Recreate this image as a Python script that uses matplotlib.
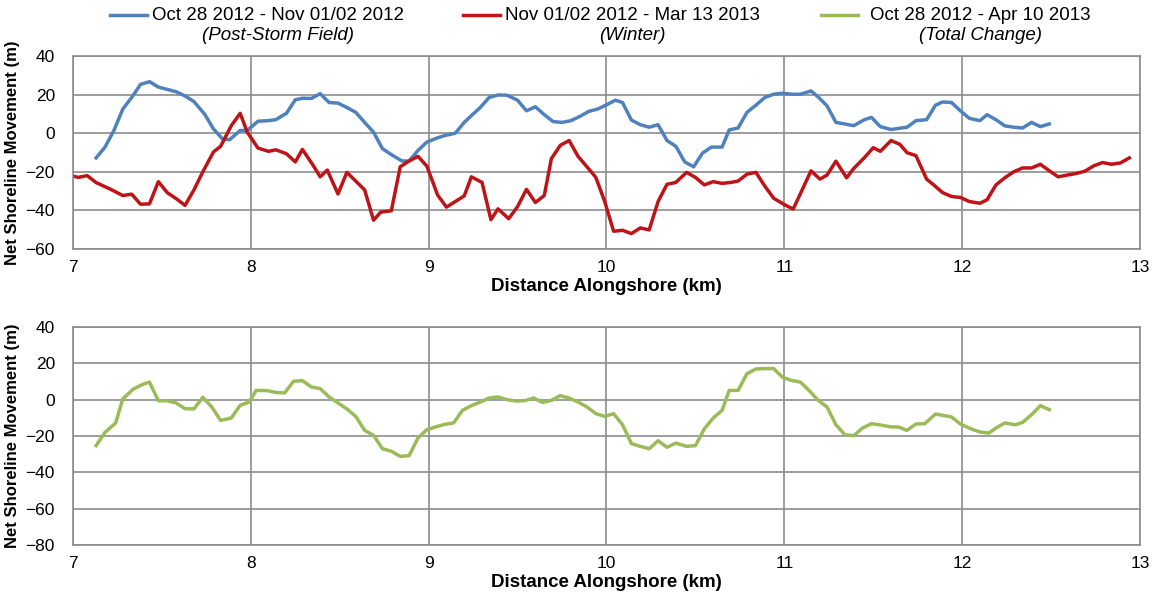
import matplotlib.pyplot as plt
from matplotlib.lines import Line2D

plt.rcParams['font.family'] = ['Liberation Sans', 'DejaVu Sans']

# post-storm field (Oct 28 2012 - Nov 01/02 2012)
dist_storm = [7.13, 7.18, 7.23, 7.28, 7.33, 7.38, 7.43, 7.48, 7.53, 7.58,
              7.63, 7.68, 7.74, 7.79, 7.84, 7.88, 7.94, 7.98, 8.04, 8.10,
              8.14, 8.20, 8.25, 8.29, 8.34, 8.39, 8.44, 8.49, 8.54, 8.59,
              8.64, 8.69, 8.74, 8.79, 8.85, 8.89, 8.94, 8.99, 9.05, 9.09,
              9.15, 9.20, 9.24, 9.29, 9.34, 9.39, 9.44, 9.50, 9.55, 9.60,
              9.65, 9.70, 9.75, 9.80, 9.85, 9.90, 9.95, 10.00, 10.05, 10.09,
              10.14, 10.19, 10.24, 10.29, 10.34, 10.39, 10.44, 10.49, 10.54, 10.59,
              10.65, 10.69, 10.74, 10.79, 10.84, 10.89, 10.94, 10.99, 11.04, 11.09,
              11.15, 11.19, 11.24, 11.29, 11.34, 11.39, 11.45, 11.49, 11.54, 11.60,
              11.65, 11.69, 11.74, 11.80, 11.85, 11.89, 11.94, 11.99, 12.04, 12.10,
              12.14, 12.19, 12.24, 12.29, 12.34, 12.39, 12.44, 12.49]
storm = [-12.8, -7.2, 1.4, 12.5, 18.5, 25.3, 26.7, 23.9, 22.7, 21.5,
         19.3, 16.4, 9.9, 2.2, -2.9, -3.4, 1.4, 1.4, 6.2, 6.5,
         7.0, 10.3, 17.3, 18.1, 18.0, 20.5, 15.9, 15.6, 13.3, 10.8,
         5.6, 0.5, -8.0, -11.1, -14.4, -14.4, -8.9, -4.6, -2.4, -1.2,
         0.0, 5.6, 9.1, 13.3, 18.5, 19.8, 19.7, 17.1, 11.6, 13.7,
         9.6, 6.0, 5.6, 6.5, 8.7, 11.3, 12.5, 14.7, 17.1, 15.9,
         6.8, 4.4, 3.1, 4.4, -3.8, -6.8, -14.9, -17.4, -10.3, -7.2,
         -7.2, 1.7, 2.7, 10.8, 14.5, 18.5, 20.2, 20.7, 20.2, 20.2,
         21.9, 18.8, 14.2, 5.6, 4.8, 3.9, 7.0, 8.2, 3.4, 1.9,
         2.6, 3.1, 6.5, 7.0, 14.5, 16.2, 15.9, 11.6, 7.7, 6.5,
         9.6, 7.0, 3.8, 3.1, 2.7, 5.6, 3.4, 4.8]

# winter (Nov 01/02 2012 - Mar 13 2013)
dist_winter = [7.00, 7.03, 7.08, 7.13, 7.21, 7.28, 7.33, 7.38, 7.43, 7.48,
               7.53, 7.58, 7.63, 7.68, 7.73, 7.79, 7.83, 7.89, 7.94, 7.98,
               8.04, 8.10, 8.14, 8.20, 8.25, 8.29, 8.35, 8.39, 8.43, 8.49,
               8.54, 8.59, 8.64, 8.69, 8.73, 8.79, 8.84, 8.89, 8.94, 8.99,
               9.05, 9.10, 9.15, 9.20, 9.24, 9.30, 9.35, 9.39, 9.45, 9.50,
               9.55, 9.60, 9.65, 9.69, 9.74, 9.79, 9.84, 9.89, 9.94, 9.99,
               10.04, 10.09, 10.14, 10.19, 10.24, 10.29, 10.34, 10.39, 10.45, 10.50,
               10.55, 10.60, 10.65, 10.70, 10.74, 10.79, 10.84, 10.89, 10.94, 11.00,
               11.05, 11.15, 11.20, 11.24, 11.29, 11.35, 11.39, 11.45, 11.50, 11.54,
               11.60, 11.65, 11.69, 11.74, 11.80, 11.84, 11.89, 11.94, 11.99, 12.04,
               12.10, 12.14, 12.19, 12.24, 12.29, 12.34, 12.39, 12.44, 12.49, 12.54,
               12.59, 12.64, 12.69, 12.74, 12.79, 12.84, 12.89, 12.94]
winter = [-22.2, -22.9, -22.0, -25.6, -29.0, -32.3, -31.6, -36.8, -36.6, -25.1,
          -30.8, -33.9, -37.4, -29.4, -20.0, -9.7, -6.8, 3.9, 10.3, 0.5,
          -7.7, -9.4, -8.6, -10.6, -14.9, -8.4, -16.6, -22.6, -19.1, -31.5,
          -20.3, -24.8, -29.4, -45.1, -40.9, -40.2, -17.4, -14.4, -12.0, -17.1,
          -32.0, -38.3, -35.4, -32.5, -22.6, -25.5, -44.8, -39.2, -44.3, -38.0,
          -29.1, -35.9, -32.3, -13.2, -6.3, -3.8, -12.0, -17.4, -22.9, -35.4,
          -50.8, -50.3, -52.0, -49.1, -50.1, -35.4, -26.5, -25.5, -20.3, -22.9,
          -26.8, -25.1, -26.0, -25.5, -24.8, -21.2, -20.3, -27.4, -33.7, -37.0,
          -39.3, -19.5, -23.8, -21.7, -14.5, -23.1, -18.3, -12.7, -7.5, -9.4,
          -3.8, -5.8, -10.1, -11.6, -23.8, -26.8, -30.8, -32.8, -33.3, -35.4,
          -36.3, -34.5, -26.8, -23.1, -20.0, -18.0, -18.0, -16.1, -19.5, -22.6,
          -21.7, -20.9, -19.7, -16.9, -15.2, -16.1, -15.4, -12.8]

# total change (Oct 28 2012 - Apr 10 2013)
dist_total = [7.13, 7.18, 7.24, 7.28, 7.34, 7.39, 7.43, 7.48, 7.53, 7.58,
              7.63, 7.68, 7.73, 7.78, 7.83, 7.89, 7.94, 7.99, 8.03, 8.09,
              8.14, 8.19, 8.24, 8.29, 8.34, 8.39, 8.44, 8.49, 8.54, 8.59,
              8.64, 8.69, 8.74, 8.79, 8.84, 8.89, 8.94, 8.99, 9.05, 9.09,
              9.14, 9.19, 9.24, 9.29, 9.34, 9.39, 9.44, 9.49, 9.54, 9.59,
              9.64, 9.69, 9.74, 9.79, 9.84, 9.89, 9.94, 9.99, 10.04, 10.09,
              10.14, 10.19, 10.24, 10.29, 10.34, 10.39, 10.45, 10.50, 10.55, 10.60,
              10.65, 10.69, 10.74, 10.79, 10.84, 10.89, 10.94, 10.99, 11.04, 11.09,
              11.14, 11.19, 11.24, 11.29, 11.34, 11.39, 11.44, 11.49, 11.55, 11.60,
              11.64, 11.69, 11.74, 11.79, 11.85, 11.90, 11.94, 11.99, 12.05, 12.10,
              12.15, 12.19, 12.24, 12.30, 12.34, 12.39, 12.44, 12.49]
total = [-25.3, -18.0, -12.8, 0.4, 5.9, 8.3, 9.7, -0.6, -0.6, -1.8,
         -5.0, -5.1, 1.3, -4.0, -11.4, -10.1, -3.1, -1.3, 5.1, 5.0,
         4.0, 3.7, 10.1, 10.5, 7.0, 6.1, 1.5, -1.8, -5.1, -9.2,
         -16.9, -19.6, -27.0, -28.4, -31.2, -30.8, -21.1, -16.5, -14.7, -13.6,
         -12.8, -5.9, -3.3, -1.3, 0.9, 1.5, 0.0, -0.7, -0.6, 0.9,
         -1.5, -0.4, 2.2, 0.9, -1.3, -4.0, -7.7, -9.2, -7.7, -13.8,
         -24.2, -25.7, -27.0, -22.6, -26.2, -23.9, -25.7, -25.3, -16.1, -10.1,
         -5.9, 5.1, 5.1, 14.3, 16.9, 17.1, 17.1, 12.3, 10.6, 9.7,
         5.0, -0.4, -4.0, -13.8, -19.3, -19.8, -15.6, -13.2, -14.1, -15.0,
         -15.0, -16.9, -13.4, -13.2, -7.9, -8.8, -9.5, -13.4, -16.1, -17.8,
         -18.4, -15.6, -12.8, -13.8, -12.5, -8.3, -3.3, -5.5]

legend_titles = ['Oct 28 2012 - Nov 01/02 2012', 'Nov 01/02 2012 - Mar 13 2013',
                 'Oct 28 2012 - Apr 10 2013']
legend_notes = ['(Post-Storm Field)', '(Winter)', '(Total Change)']

blue, red, green = '#4F81BD', '#BE1418', '#9BBB59'
grid_c = '#8C8C8C'
W, H = 1154, 596


def style(ax, ymin, ymax):
    ax.set_xlim(7, 13)
    ax.set_ylim(ymin, ymax)
    ax.set_xticks(range(7, 14))
    ax.set_yticks(range(ymin, ymax + 1, 20))
    ax.grid(True, color=grid_c, lw=1.2)
    ax.set_axisbelow(True)
    for s in ax.spines.values():
        s.set_color(grid_c)
        s.set_linewidth(1.2)
    ax.tick_params(length=0, labelsize=12.5)
    ax.tick_params(axis='y', pad=13)
    ax.tick_params(axis='x', pad=8)
    ax.set_xlabel('Distance Alongshore (km)', fontsize=13.5, fontweight='bold', labelpad=2)
    ax.set_ylabel('Net Shoreline Movement (m)', fontsize=12, fontweight='bold')
    ax.yaxis.set_label_coords(-0.05, 0.5)


fig = plt.figure(figsize=(W / 100, H / 100), dpi=100)
ax1 = fig.add_axes([73 / W, 1 - 249 / H, (1140 - 73) / W, (249 - 56) / H])
ax2 = fig.add_axes([73 / W, 1 - 545 / H, (1140 - 73) / W, (545 - 327) / H])

ax1.plot(dist_storm, storm, color=blue, lw=2.5)
ax1.plot(dist_winter, winter, color=red, lw=2.5)
style(ax1, -60, 40)

ax2.plot(dist_total, total, color=green, lw=2.5)
style(ax2, -80, 40)

# legend drawn by hand: two-line labels with an italic second line
line_x = [(110, 147), (463, 500), (821, 858)]
text_cx = [278, 632, 980]
for (x0, x1), cx, col, t, n in zip(line_x, text_cx, [blue, red, green], legend_titles, legend_notes):
    fig.add_artist(Line2D([x0 / W, x1 / W], [1 - 15 / H] * 2, transform=fig.transFigure,
                          color=col, lw=2.5))
    fig.text(cx / W, 1 - 15 / H, t, ha='center', va='center', fontsize=13.5)
    fig.text(cx / W, 1 - 35 / H, n, ha='center', va='center', fontsize=13.5, style='italic')

fig.savefig('out.png', dpi=100)
